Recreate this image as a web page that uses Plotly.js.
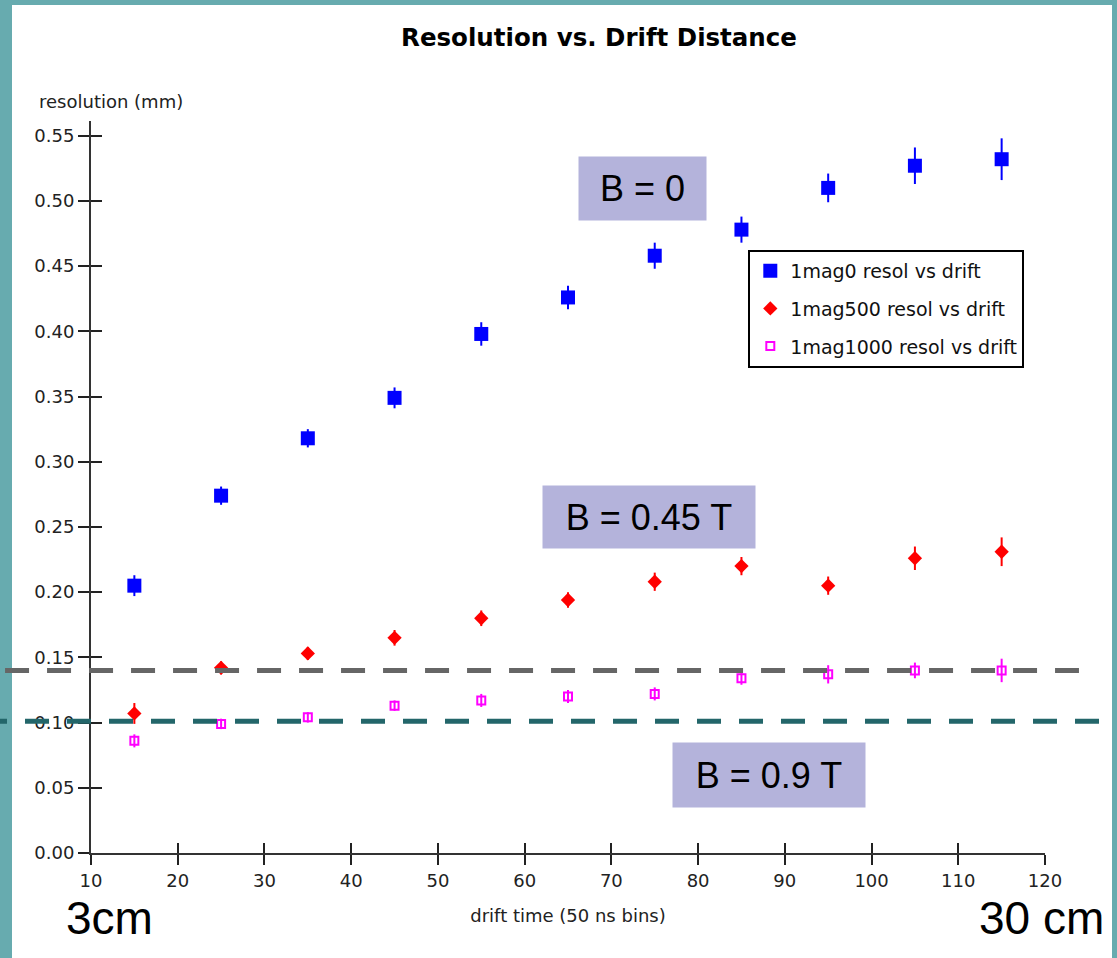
<!DOCTYPE html>
<html>
<head>
<meta charset="utf-8">
<script src="https://cdn.plot.ly/plotly-3.0.1.min.js"></script>
<style>
  html, body { margin: 0; padding: 0; background: #67abaf; width: 1117px; height: 958px; overflow: hidden; }
  #panel { position: absolute; left: 12px; top: 5px; width: 1100px; height: 953px; background: #ffffff; }
  #chart { position: absolute; left: 0; top: 0; width: 1117px; height: 958px; }
</style>
</head>
<body>
<div id="panel"></div>
<div id="chart"></div>
<script>
// ---- data ----
const driftTime = [15, 25, 35, 45, 55, 65, 75, 85, 95, 105, 115];

const mag0Resol    = [0.205, 0.274, 0.318, 0.349, 0.398, 0.426, 0.458, 0.478, 0.510, 0.527, 0.532];
const mag0Err      = [0.008, 0.007, 0.007, 0.008, 0.009, 0.009, 0.010, 0.010, 0.011, 0.014, 0.016];

const mag500Resol  = [0.107, 0.142, 0.153, 0.165, 0.180, 0.194, 0.208, 0.220, 0.205, 0.226, 0.231];
const mag500Err    = [0.008, 0.005, 0.005, 0.006, 0.006, 0.006, 0.007, 0.007, 0.007, 0.009, 0.011];

const mag1000Resol = [0.086, 0.099, 0.104, 0.113, 0.117, 0.120, 0.122, 0.134, 0.137, 0.140, 0.140];
const mag1000Err   = [0.005, 0.004, 0.004, 0.004, 0.005, 0.005, 0.005, 0.005, 0.007, 0.006, 0.009];

const seriesNames = ['1mag0 resol vs drift', '1mag500 resol vs drift', '1mag1000 resol vs drift'];

const xTickVals = [10, 20, 30, 40, 50, 60, 70, 80, 90, 100, 110, 120];
const yTickVals = [0.00, 0.05, 0.10, 0.15, 0.20, 0.25, 0.30, 0.35, 0.40, 0.45, 0.50, 0.55];

// horizontal reference lines drawn over the chart (resolution, mm)
const refLineValues = [0.140, 0.101];
const fieldLabels = ['B = 0', 'B = 0.45 T', 'B = 0.9 T'];
const distanceLabels = ['3cm', '30 cm'];

// ---- traces ----
const traces = [
  {
    x: driftTime, y: mag0Resol, name: seriesNames[0], type: 'scatter', mode: 'markers',
    legendgroup: 'a',
    marker: { symbol: 'square', size: 14, color: '#0000ff' },
    error_y: { type: 'data', array: mag0Err, visible: true, color: '#0000ff', thickness: 2, width: 0 }
  },
  {
    x: driftTime, y: mag500Resol, name: seriesNames[1], type: 'scatter', mode: 'markers',
    legendgroup: 'b',
    marker: { symbol: 'diamond', size: 11, color: '#ff0000' },
    error_y: { type: 'data', array: mag500Err, visible: true, color: '#ff0000', thickness: 2, width: 0 }
  },
  {
    x: driftTime, y: mag1000Resol, name: seriesNames[2], type: 'scatter', mode: 'markers',
    legendgroup: 'c',
    marker: { symbol: 'square-open', size: 8, color: '#ff00ff', line: { color: '#ff00ff', width: 2 } },
    error_y: { type: 'data', array: mag1000Err, visible: true, color: '#ff00ff', thickness: 2, width: 0 }
  },
  { x: [], y: [], xaxis: 'x2', yaxis: 'y2', showlegend: false, hoverinfo: 'skip', type: 'scatter', mode: 'markers' }
];

const axisFont = { family: 'DejaVu Sans, Verdana, sans-serif', size: 18, color: '#222' };
const bigFont = { family: 'Liberation Sans, Arial, sans-serif', size: 36, color: '#000' };
const cmFont = { family: 'Liberation Sans, Arial, sans-serif', size: 46, color: '#000' };

const layout = {
  width: 1117, height: 958,
  paper_bgcolor: 'rgba(0,0,0,0)', plot_bgcolor: 'rgba(0,0,0,0)',
  margin: { l: 91, r: 72, t: 121, b: 105 },
  showlegend: true,
  title: {
    text: 'Resolution vs. Drift Distance',
    font: { family: 'DejaVu Sans, Verdana, sans-serif', size: 24.5, color: '#000', weight: 'bold' },
    xref: 'paper', x: 0.5325, xanchor: 'center', yref: 'container', y: 0.9614, yanchor: 'middle'
  },
  xaxis: {
    range: [10, 120], tickvals: xTickVals, ticktext: xTickVals.map(String),
    showgrid: false, zeroline: false, showline: true, linecolor: '#333', linewidth: 2,
    ticks: 'outside', ticklen: 10, tickwidth: 2, tickcolor: '#222',
    tickfont: axisFont,
    title: { text: 'drift time (50 ns bins)', font: axisFont, standoff: 20 }
  },
  yaxis: {
    range: [0, 0.5613], tickvals: yTickVals, ticktext: yTickVals.map(v => v.toFixed(2)),
    showgrid: false, zeroline: false, showline: true, linecolor: '#333', linewidth: 2,
    ticks: 'outside', ticklen: 11, tickwidth: 2, tickcolor: '#222',
    tickfont: axisFont
  },
  xaxis2: {
    overlaying: 'x', anchor: 'y2', side: 'bottom', range: [10, 120], tickvals: xTickVals,
    showticklabels: false, showgrid: false, zeroline: false, showline: false,
    ticks: 'inside', ticklen: 10, tickwidth: 2, tickcolor: '#222'
  },
  yaxis2: {
    overlaying: 'y', anchor: 'x2', side: 'left', range: [0, 0.5613], tickvals: yTickVals,
    showticklabels: false, showgrid: false, zeroline: false, showline: false,
    ticks: 'inside', ticklen: 11, tickwidth: 2, tickcolor: '#222'
  },
  legend: {
    x: 0.689, xanchor: 'left', y: 0.824, yanchor: 'top',
    bgcolor: '#ffffff', bordercolor: '#000', borderwidth: 2,
    font: { family: 'DejaVu Sans, Verdana, sans-serif', size: 19, color: '#111' },
    traceorder: 'grouped', tracegroupgap: 10
  },
  shapes: [
    { type: 'line', xref: 'paper', yref: 'y', x0: -0.0901, x1: 1.0356, y0: refLineValues[0], y1: refLineValues[0],
      line: { color: '#666666', width: 5, dash: '24px,18px' }, layer: 'above' },
    { type: 'line', xref: 'paper', yref: 'y', x0: -0.1132, x1: 1.0566, y0: refLineValues[1], y1: refLineValues[1],
      line: { color: '#23666a', width: 5, dash: '24px,18px' }, layer: 'above' }
  ],
  annotations: [
    { text: 'resolution (mm)', xref: 'paper', yref: 'paper', x: -0.0566, y: 1.026, xanchor: 'left', yanchor: 'middle',
      showarrow: false, font: axisFont },
    { text: fieldLabels[0], xref: 'paper', yref: 'paper', x: 0.578, y: 0.9078, xanchor: 'center', yanchor: 'middle',
      showarrow: false, font: bigFont, bgcolor: '#b4b3db', width: 127, height: 63, borderpad: 0 },
    { text: fieldLabels[1], xref: 'paper', yref: 'paper', x: 0.585, y: 0.459, xanchor: 'center', yanchor: 'middle',
      showarrow: false, font: bigFont, bgcolor: '#b4b3db', width: 212, height: 62, borderpad: 0 },
    { text: fieldLabels[2], xref: 'paper', yref: 'paper', x: 0.7107, y: 0.1066, xanchor: 'center', yanchor: 'middle',
      showarrow: false, font: bigFont, bgcolor: '#b4b3db', width: 192, height: 64, borderpad: 0 },
    { text: distanceLabels[0], xref: 'paper', yref: 'paper', x: 0.0199, y: -0.0888, xanchor: 'center', yanchor: 'middle',
      showarrow: false, font: cmFont },
    { text: distanceLabels[1], xref: 'paper', yref: 'paper', x: 0.9963, y: -0.0888, xanchor: 'center', yanchor: 'middle',
      showarrow: false, font: cmFont }
  ]
};

Plotly.newPlot('chart', traces, layout, { displayModeBar: false, staticPlot: true });
</script>
</body>
</html>
